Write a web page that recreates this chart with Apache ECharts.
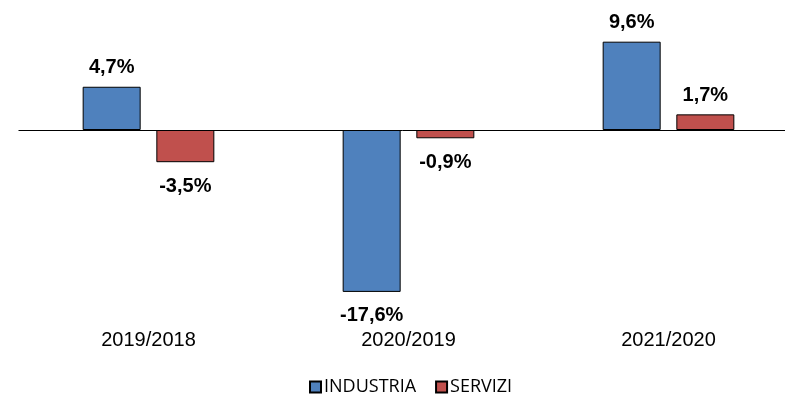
<!DOCTYPE html>
<html>
<head>
<meta charset="utf-8">
<script src="https://cdn.jsdelivr.net/npm/echarts@6/dist/echarts.min.js"></script>
<style>
  html, body { margin: 0; padding: 0; background: #fff; }
  #chart { width: 785px; height: 394px; }
</style>
</head>
<body>
<div id="chart"></div>
<script>
// Year-on-year change by sector, in percent
const categories = ['2019/2018', '2020/2019', '2021/2020'];
const industria = [4.7, -17.6, 9.6];
const servizi = [-3.5, -0.9, 1.7];
const seriesNames = ['INDUSTRIA', 'SERVIZI'];

const fmt = v => v.toFixed(1).replace('.', ',') + '%';

function barData(values) {
  return values.map(v => ({
    value: v,
    label: {
      position: v < 0 ? 'bottom' : 'top',
      distance: v < 0 ? 14 : 9
    }
  }));
}

const labelStyle = {
  show: true,
  formatter: p => fmt(p.value),
  fontFamily: 'Arial, "Liberation Sans", sans-serif',
  fontWeight: 'bold',
  fontSize: 20,
  color: '#000'
};

const chart = echarts.init(document.getElementById('chart'), null, { renderer: 'canvas' });

chart.setOption({
  animation: false,
  backgroundColor: '#ffffff',
  grid: {
    left: 18.5, top: 19.6, width: 780, height: 294.4,
    containLabel: false,
    outerBoundsMode: 'none'
  },
  legend: {
    data: seriesNames,
    left: 304,
    top: 373,
    icon: 'rect',
    itemWidth: 11,
    itemHeight: 11,
    itemGap: 19,
    textStyle: {
      fontFamily: '"Open Sans", sans-serif',
      fontSize: 18,
      color: '#000',
      padding: [0, 0, 0, -2]
    }
  },
  xAxis: {
    type: 'category',
    data: categories,
    axisLine: { show: false, onZero: false },
    axisTick: { show: false },
    axisLabel: {
      margin: 16.5,
      fontFamily: 'Arial, "Liberation Sans", sans-serif',
      fontSize: 20,
      color: '#000'
    },
    splitLine: { show: false }
  },
  yAxis: {
    type: 'value',
    min: -20,
    max: 12,
    show: false,
    splitLine: { show: false }
  },
  series: [
    {
      name: seriesNames[0],
      type: 'bar',
      barWidth: 58,
      barGap: '27%',
      data: barData(industria),
      itemStyle: { color: '#4F81BD', borderColor: '#000', borderWidth: 1 },
      label: labelStyle,
      markLine: {
        silent: true,
        symbol: 'none',
        label: { show: false },
        lineStyle: { color: '#000', width: 1, type: 'solid' },
        data: [{ yAxis: 0 }]
      }
    },
    {
      name: seriesNames[1],
      type: 'bar',
      barWidth: 58,
      data: barData(servizi),
      itemStyle: { color: '#C0504D', borderColor: '#000', borderWidth: 1 },
      label: labelStyle
    }
  ]
});
</script>
</body>
</html>
